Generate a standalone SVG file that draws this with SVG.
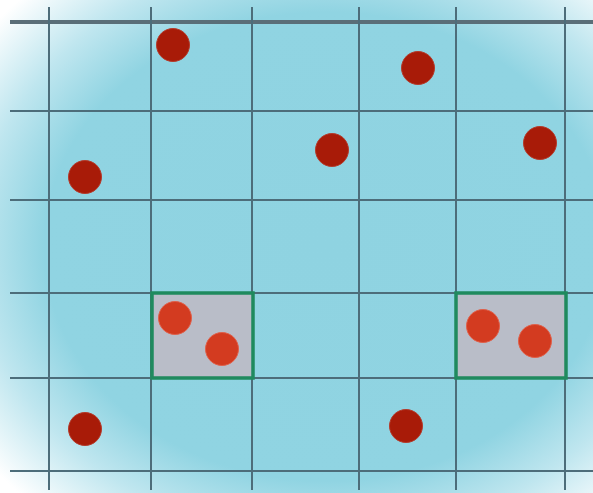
<svg xmlns="http://www.w3.org/2000/svg" width="593" height="493" viewBox="0 0 593 493">
<defs>
<radialGradient id="bg" cx="0.55" cy="0.5" r="0.72">
<stop offset="0" stop-color="#8fd3e1"/>
<stop offset="0.66" stop-color="#90d4e2"/>
<stop offset="0.82" stop-color="#bfe6ef"/>
<stop offset="1" stop-color="#ffffff"/>
</radialGradient>
</defs>
<style>
.g{stroke:#4d6d7a;stroke-width:2;fill:none}
.gt{stroke:#5a6e78;stroke-width:4;fill:none}
.d{fill:#a81b08;stroke:#b53a2a;stroke-width:1}
.h{fill:#d33b20;stroke:#e0604a;stroke-width:1}
.c{fill:#b9bdc8;stroke:#1f8a5e;stroke-width:3.5}
</style>
<rect width="593" height="493" fill="url(#bg)"/>
<g id="grid">
<line class="gt" x1="10" y1="22" x2="593" y2="22"/>
<line class="g" x1="10" y1="111" x2="593" y2="111"/>
<line class="g" x1="10" y1="200" x2="593" y2="200"/>
<line class="g" x1="10" y1="293" x2="593" y2="293"/>
<line class="g" x1="10" y1="378" x2="593" y2="378"/>
<line class="g" x1="10" y1="471" x2="593" y2="471"/>
<line class="g" x1="49" y1="7" x2="49" y2="490"/>
<line class="g" x1="151" y1="7" x2="151" y2="490"/>
<line class="g" x1="252" y1="7" x2="252" y2="490"/>
<line class="g" x1="359" y1="7" x2="359" y2="490"/>
<line class="g" x1="456" y1="7" x2="456" y2="490"/>
<line class="g" x1="565" y1="7" x2="565" y2="490"/>
</g>
<g id="cell1">
<rect class="c" x="152" y="293" width="101" height="85"/>
<circle class="h" cx="175" cy="318" r="16.5"/>
<circle class="h" cx="222" cy="349" r="16.5"/>
</g>
<g id="cell2">
<rect class="c" x="456" y="293" width="110" height="85"/>
<circle class="h" cx="483" cy="326" r="16.5"/>
<circle class="h" cx="535" cy="341" r="16.5"/>
</g>
<g id="dots">
<circle class="d" cx="173" cy="45" r="16.5"/>
<circle class="d" cx="85" cy="177" r="16.5"/>
<circle class="d" cx="418" cy="68" r="16.5"/>
<circle class="d" cx="332" cy="150" r="16.5"/>
<circle class="d" cx="540" cy="143" r="16.5"/>
<circle class="d" cx="85" cy="429" r="16.5"/>
<circle class="d" cx="406" cy="426" r="16.5"/>
</g>
</svg>
